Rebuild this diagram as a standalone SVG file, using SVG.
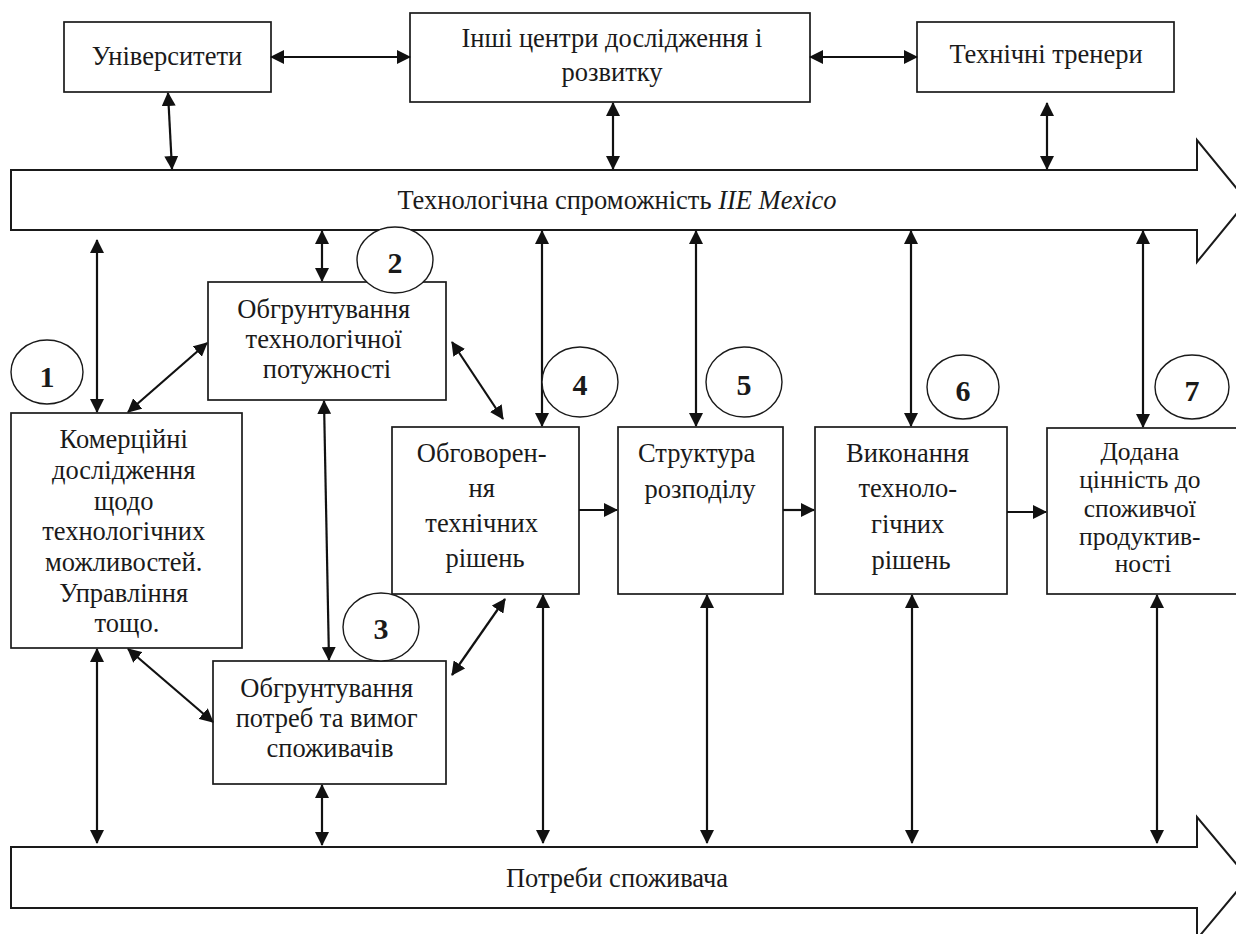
<svg xmlns="http://www.w3.org/2000/svg" width="1236" height="934" viewBox="0 0 1236 934">
  <style>
    .box { fill: #fff; stroke: #1a1a1a; stroke-width: 1.7; }
    .band { fill: #fff; stroke: #1a1a1a; stroke-width: 2; }
    .num { fill: #fff; stroke: #1a1a1a; stroke-width: 1.4; }
    .t { font-family: "Liberation Serif", "DejaVu Serif", serif; font-size: 26.5px; fill: #1a1a1a; text-anchor: middle; }
    .s { font-size: 25.5px; }
    .n { font-family: "Liberation Serif", "DejaVu Serif", serif; font-size: 30px; font-weight: bold; fill: #1a1a1a; text-anchor: middle; }
    .c line { stroke: #111; stroke-width: 2.2; }
    .both { marker-start: url(#ah); marker-end: url(#ah); }
    .one { marker-end: url(#ah); }
  </style>
  <defs>
    <marker id="ah" viewBox="0 0 14 14" refX="13" refY="7" markerWidth="14" markerHeight="14" markerUnits="userSpaceOnUse" orient="auto-start-reverse">
      <path d="M0,0 L14,7 L0,14 Z" fill="#111"/>
    </marker>
  </defs>
  <rect width="1236" height="934" fill="#fff"/>

  <!-- big flow bands -->
  <g id="band-tech">
    <path class="band" d="M11,170 H1197 V140 L1247,201 L1197,262 V230 H11 Z"/>
    <text class="t" x="617" y="209">Технологічна спроможність <tspan font-style="italic">IIE Mexico</tspan></text>
  </g>
  <g id="band-needs">
    <path class="band" d="M11,847 H1197 V817 L1248,878 L1197,939 V908 H11 Z"/>
    <text class="t" x="617" y="887">Потреби споживача</text>
  </g>

  <!-- partner nodes -->
  <g id="universities">
    <rect class="box" x="64" y="22" width="207" height="70"/>
    <text class="t" x="167" y="65">Університети</text>
  </g>
  <g id="rd-centers">
    <rect class="box" x="410" y="13" width="400" height="89"/>
    <text class="t" x="612" y="47">Інші центри дослідження і</text>
    <text class="t" x="612" y="81">розвитку</text>
  </g>
  <g id="trainers">
    <rect class="box" x="917" y="22" width="257" height="70"/>
    <text class="t" x="1046" y="63">Технічні тренери</text>
  </g>

  <!-- process nodes -->
  <g id="step1">
    <rect class="box" x="11" y="413" width="231" height="235"/>
    <text class="t">
      <tspan x="127" y="448">Комерційні</tspan>
      <tspan x="127" y="479">дослідження</tspan>
      <tspan x="127" y="510">щодо</tspan>
      <tspan x="127" y="540">технологічних</tspan>
      <tspan x="127" y="571">можливостей.</tspan>
      <tspan x="127" y="602">Управління</tspan>
      <tspan x="127" y="632">тощо.</tspan>
    </text>
  </g>
  <g id="step2">
    <rect class="box" x="208" y="282" width="238" height="118"/>
    <text class="t">
      <tspan x="327" y="318">Обгрунтування</tspan>
      <tspan x="327" y="348">технологічної</tspan>
      <tspan x="327" y="378">потужності</tspan>
    </text>
  </g>
  <g id="step3">
    <rect class="box" x="213" y="661" width="233" height="123"/>
    <text class="t">
      <tspan x="330" y="697">Обгрунтування</tspan>
      <tspan x="330" y="727">потреб та вимог</tspan>
      <tspan x="330" y="757">споживачів</tspan>
    </text>
  </g>
  <g id="step4">
    <rect class="box" x="392" y="427" width="187" height="167"/>
    <text class="t">
      <tspan x="485" y="462">Обговорен-</tspan>
      <tspan x="485" y="497">ня</tspan>
      <tspan x="485" y="532">технічних</tspan>
      <tspan x="485" y="567">рішень</tspan>
    </text>
  </g>
  <g id="step5">
    <rect class="box" x="618" y="427" width="165" height="167"/>
    <text class="t">
      <tspan x="700" y="462">Структура</tspan>
      <tspan x="700" y="498">розподілу</tspan>
    </text>
  </g>
  <g id="step6">
    <rect class="box" x="815" y="427" width="192" height="167"/>
    <text class="t">
      <tspan x="911" y="462">Виконання</tspan>
      <tspan x="911" y="497">техноло-</tspan>
      <tspan x="911" y="533">гічних</tspan>
      <tspan x="911" y="569">рішень</tspan>
    </text>
  </g>
  <g id="step7">
    <rect class="box" x="1047" y="428" width="192" height="166"/>
    <text class="t s">
      <tspan x="1143" y="460">Додана</tspan>
      <tspan x="1143" y="488">цінність до</tspan>
      <tspan x="1143" y="517">споживчої</tspan>
      <tspan x="1143" y="545">продуктив-</tspan>
      <tspan x="1143" y="572">ності</tspan>
    </text>
  </g>

  <!-- connectors -->
  <g id="connectors" class="c">
    <line class="both" x1="271" y1="57" x2="410" y2="57"/>
    <line class="both" x1="810" y1="57" x2="917" y2="57"/>
    <line class="both" x1="168" y1="93" x2="172" y2="169"/>
    <line class="both" x1="613" y1="103" x2="613" y2="169"/>
    <line class="both" x1="1047" y1="103" x2="1047" y2="169"/>

    <line class="both" x1="97" y1="240" x2="97" y2="412"/>
    <line class="both" x1="322" y1="231" x2="322" y2="281"/>
    <line class="both" x1="542" y1="231" x2="542" y2="426"/>
    <line class="both" x1="696" y1="231" x2="696" y2="426"/>
    <line class="both" x1="911" y1="231" x2="911" y2="426"/>
    <line class="both" x1="1143" y1="231" x2="1143" y2="427"/>

    <line class="both" x1="128" y1="412" x2="207" y2="343"/>
    <line class="both" x1="452" y1="342" x2="503" y2="419"/>
    <line class="both" x1="324" y1="401" x2="329" y2="660"/>
    <line class="both" x1="128" y1="649" x2="213" y2="722"/>
    <line class="both" x1="452" y1="675" x2="505" y2="599"/>

    <line class="one" x1="579" y1="510" x2="617" y2="510"/>
    <line class="one" x1="783" y1="510" x2="814" y2="510"/>
    <line class="one" x1="1007" y1="512" x2="1046" y2="512"/>

    <line class="both" x1="97" y1="649" x2="97" y2="843"/>
    <line class="both" x1="322" y1="785" x2="322" y2="845"/>
    <line class="both" x1="543" y1="595" x2="543" y2="843"/>
    <line class="both" x1="707" y1="595" x2="707" y2="843"/>
    <line class="both" x1="912" y1="595" x2="912" y2="843"/>
    <line class="both" x1="1157" y1="595" x2="1157" y2="843"/>
  </g>

  <!-- step numbers -->
  <g id="n1"><ellipse class="num" cx="47" cy="372" rx="36" ry="32"/><text class="n" x="47" y="387">1</text></g>
  <g id="n2"><ellipse class="num" cx="395" cy="260" rx="38" ry="33"/><text class="n" x="395" y="273">2</text></g>
  <g id="n3"><ellipse class="num" cx="381" cy="627" rx="38" ry="34"/><text class="n" x="381" y="639">3</text></g>
  <g id="n4"><ellipse class="num" cx="580" cy="382" rx="38" ry="35"/><text class="n" x="580" y="395">4</text></g>
  <g id="n5"><ellipse class="num" cx="744" cy="382" rx="38" ry="35"/><text class="n" x="744" y="395">5</text></g>
  <g id="n6"><ellipse class="num" cx="963" cy="387" rx="36" ry="32"/><text class="n" x="963" y="401">6</text></g>
  <g id="n7"><ellipse class="num" cx="1192" cy="387" rx="37" ry="32"/><text class="n" x="1192" y="401">7</text></g>
</svg>
